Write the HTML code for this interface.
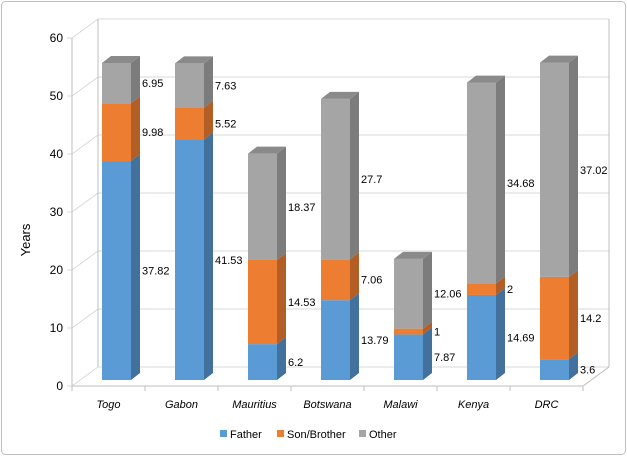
<!DOCTYPE html>
<html><head><meta charset="utf-8"><style>
body{margin:0;background:#fff}
svg{display:block;font-family:"Liberation Sans",sans-serif}
</style></head><body>
<svg id="chart" width="627" height="456" viewBox="0 0 627 456" xmlns="http://www.w3.org/2000/svg">
<rect x="1.5" y="1.5" width="624" height="453" rx="4" fill="#fff" stroke="#bfbfbf"/>
<g id="grid"></g><g id="bars"></g><g id="labels"></g>
<text x="30" y="240" transform="rotate(-90 30 240)" text-anchor="middle" font-size="13" fill="#000">Years</text>
<g font-size="11">
<g><rect x="220" y="430" width="7" height="7" fill="#5B9BD5"/><text x="230" y="438">Father</text></g>
<g><rect x="277" y="430" width="7" height="7" fill="#ED7D31"/><text x="287" y="438">Son/Brother</text></g>
<g><rect x="359" y="430" width="7" height="7" fill="#A5A5A5"/><text x="369" y="438">Other</text></g>
</g>
</svg>
<script>
const categories=["Togo","Gabon","Mauritius","Botswana","Malawi","Kenya","DRC"];
const father=[37.82,41.53,6.2,13.79,7.87,14.69,3.6];
const sonBrother=[9.98,5.52,14.53,7.06,1,2,14.2];
const other=[6.95,7.63,18.37,27.7,12.06,34.68,37.02];
const yTicks=[0,10,20,30,40,50,60];
const NS="http://www.w3.org/2000/svg";
const g=id=>document.getElementById(id);
function mk(tag,attrs,parent,txt){const e=document.createElementNS(NS,tag);for(const k in attrs)e.setAttribute(k,attrs[k]);if(txt!==undefined)e.textContent=txt;parent.appendChild(e);return e;}
const X0=72,STEP=73,WDX=26,WDY=-19;
const yFront=v=>386-v*5.8;
const yBar=v=>380-v*5.79;
const grid=g('grid');
yTicks.forEach(t=>{
 const y=yFront(t);
 const l=mk('path',{d:`M${X0-5} ${y}L${X0} ${y}L${X0+WDX} ${y+WDY}L${X0+WDX+7*STEP} ${y+WDY}`,fill:'none',stroke:'#d9d9d9'},grid);
 
 
 const tx=mk('text',{x:X0-9,y:y+4,'text-anchor':'end','font-size':'12'},grid,String(t));
 
 
});
mk('path',{d:`M${X0} ${yFront(60)}L${X0} ${yFront(0)}L${X0+7*STEP} ${yFront(0)}L${X0+7*STEP+WDX} ${yFront(0)+WDY}M${X0+WDX} ${yFront(60)+WDY}L${X0+WDX} ${yFront(0)+WDY}M${X0+WDX+7*STEP} ${yFront(60)+WDY}L${X0+WDX+7*STEP} ${yFront(0)+WDY}`,fill:'none',stroke:'#bfbfbf'},grid);
for(let i=0;i<=7;i++){mk('line',{x1:X0+i*STEP,x2:X0+i*STEP,y1:386,y2:391,stroke:'#bfbfbf'},grid);}
const series=[[father,'#5B9BD5','#41719C','#7FB0DD','father'],[sonBrother,'#ED7D31','#B25E25','#F19A5E','son-brother'],[other,'#A5A5A5','#7C7C7C','#8a8a8a','other']];
const bars=g('bars'),labels=g('labels');
const DX=9,DY=-7,BW=29;
categories.forEach((c,i)=>{
 const x=X0+i*STEP+30;
 let cum=0;
 series.forEach(([arr,cf,cs,ct,nm],si)=>{
  const v=arr[i],y0=yBar(cum),y1=yBar(cum+v);
  const grp=mk('g',{},bars);
  
  
  mk('rect',{x:x,y:y1,width:BW,height:y0-y1,fill:cf},grp);
  mk('path',{d:`M${x+BW} ${y1}L${x+BW+DX} ${y1+DY}L${x+BW+DX} ${y0+DY}L${x+BW} ${y0}Z`,fill:cs},grp);
  if(si===2) mk('path',{d:`M${x} ${y1}L${x+DX} ${y1+DY}L${x+BW+DX} ${y1+DY}L${x+BW} ${y1}Z`,fill:ct},grp);
  const lb=mk('text',{x:x+BW+11,y:(y0+y1)/2+4,'font-size':'11'},labels,String(v));
  
  
  cum+=v;
 });
 const ct=mk('text',{x:X0+i*STEP+STEP/2,y:408,'text-anchor':'middle','font-size':'11','font-style':'italic'},labels,c);
 
 
});
</script>
</body></html>
